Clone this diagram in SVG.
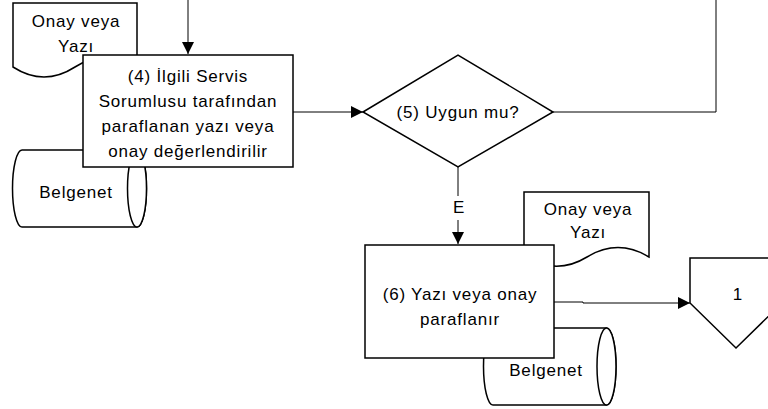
<svg xmlns="http://www.w3.org/2000/svg" width="768" height="409" viewBox="0 0 768 409">
<style>
.s{fill:#fff;stroke:#000;stroke-width:1.5}
.c{fill:none;stroke:#000;stroke-width:1}
text{font-family:"Liberation Sans",Arial,sans-serif;font-size:17px;fill:#000;text-anchor:middle;letter-spacing:0.8px}
</style>
<defs>
<marker id="arr" viewBox="0 0 10 10" refX="10" refY="5" markerWidth="13" markerHeight="12" markerUnits="userSpaceOnUse" orient="auto">
<path d="M0,0 L10,5 L0,10 z" fill="#000"/>
</marker>
</defs>
<g id="connectors">
<path class="c" d="M188,0 V54" marker-end="url(#arr)"/>
<path class="c" d="M293,112 H363" marker-end="url(#arr)"/>
<path class="c" d="M553,112 H716 V0"/>
<path class="c" d="M458,167 V244" marker-end="url(#arr)"/>
<rect x="451" y="196" width="15" height="24" fill="#fff"/>
<text x="459" y="213">E</text>
<path class="c" d="M554,302 H583 V303 H690" marker-end="url(#arr)"/>
</g>
<g id="doc1">
<path class="s" d="M13,3 H137 V67 Q106,47 75,67 T13,67 Z"/>
<text x="76" y="27">Onay veya</text>
<text x="76" y="52">Yazı</text>
</g>
<g id="db1">
<path class="s" d="M22,150 H137 A9.5,38.5 0 0 1 137,227 H22 A9.5,38.5 0 0 1 22,150 Z"/>
<ellipse class="s" cx="137" cy="188.5" rx="9.5" ry="38.5" fill="none"/>
<text x="76" y="198">Belgenet</text>
</g>
<g id="step4">
<rect class="s" x="83" y="55" width="210" height="112"/>
<text x="188" y="82">(4) İlgili Servis</text>
<text x="188" y="107">Sorumlusu tarafından</text>
<text x="188" y="132">paraflanan  yazı veya</text>
<text x="188" y="157">onay değerlendirilir</text>
</g>
<g id="dec5">
<polygon class="s" points="363,112 458,55 553,112 458,167"/>
<text x="458" y="118">(5) Uygun mu?</text>
</g>
<g id="doc2">
<path class="s" d="M524,192 H649 V257 Q618,238 587,257 T524,256 Z"/>
<text x="588" y="215">Onay veya</text>
<text x="588" y="238">Yazı</text>
</g>
<g id="db2">
<path class="s" d="M493,328 H606.5 A9.5,38.5 0 0 1 606.5,405 H493 A9.5,38.5 0 0 1 493,328 Z"/>
<ellipse class="s" cx="606.5" cy="366.5" rx="9.5" ry="38.5"/>
<text x="546" y="376">Belgenet</text>
</g>
<g id="step6">
<rect class="s" x="365" y="245" width="189" height="113"/>
<text x="460" y="300">(6) Yazı veya onay</text>
<text x="460" y="325">paraflanır</text>
</g>
<g id="offpage1">
<polygon class="s" points="690,258 782,258 782,303 736,348 690,303"/>
<text x="738" y="300">1</text>
</g>
</svg>
